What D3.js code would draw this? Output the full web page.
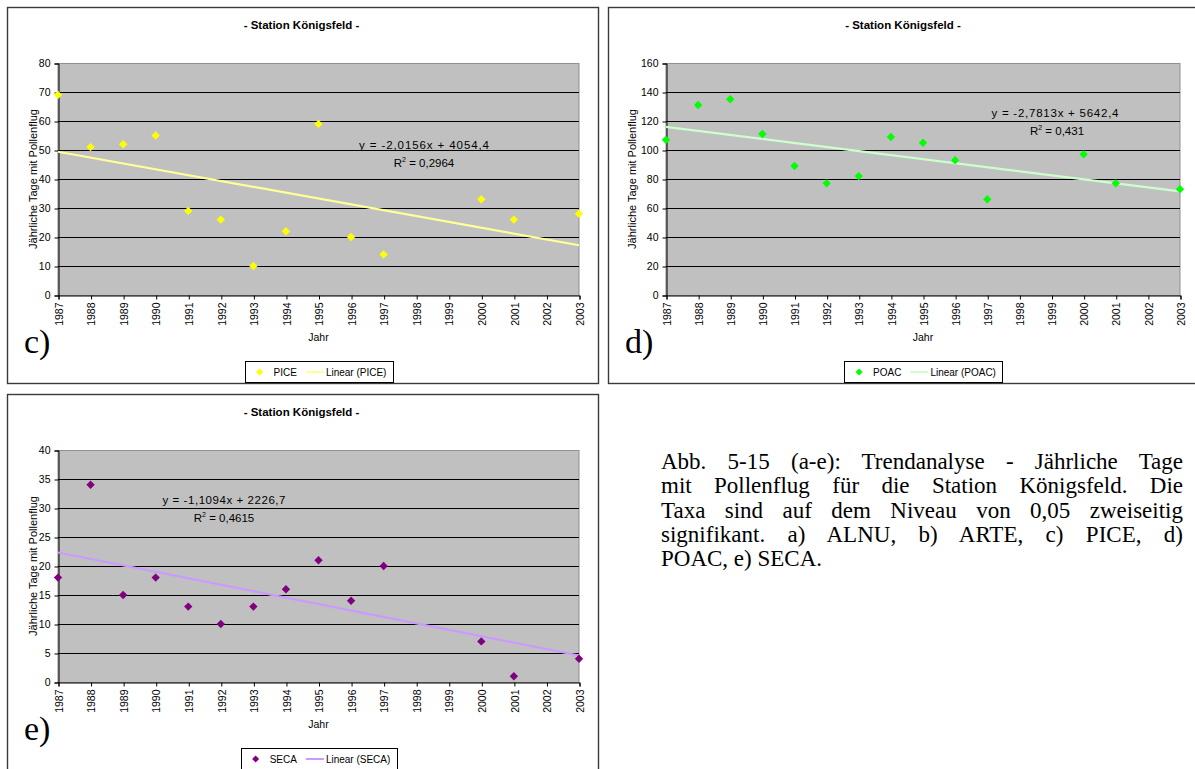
<!DOCTYPE html>
<html><head><meta charset="utf-8">
<script src="https://cdn.jsdelivr.net/npm/d3@7"></script>
<style>
body{margin:0;background:#fff;}
#wrap{position:relative;width:1195px;height:769px;overflow:hidden;background:#fff;}
svg{position:absolute;left:0;top:0;}
.cap{position:absolute;left:661px;top:450px;width:522px;font-family:"Liberation Serif","Times New Roman",serif;font-size:23px;line-height:24.3px;color:#000;}
.cap div{text-align:justify;text-align-last:justify;white-space:nowrap;}
.cap div.last{text-align:left;text-align-last:left;}
</style></head>
<body><div id="wrap"></div>
<script>
// ---------- data ----------
const yearTicks = [1987,1988,1989,1990,1991,1992,1993,1994,1995,1996,1997,1998,1999,2000,2001,2002,2003];
const obsYears  = [1987,1988,1989,1990,1991,1992,1993,1994,1995,1996,1997,2000,2001,2003];
const piceValues = [69,51,52,55,29,26,10,22,59,20,14,33,26,28];
const poacValues = [107,131,135,111,89,77,82,109,105,93,66,97,77,73];
const secaValues = [18,34,15,18,13,10,13,16,21,14,20,7,1,4];
const piceTicks = [0,10,20,30,40,50,60,70,80];
const poacTicks = [0,20,40,60,80,100,120,140,160];
const secaTicks = [0,5,10,15,20,25,30,35,40];
const seriesNames = ["PICE","POAC","SECA"];
const trendSlopes = [-2.0156,-2.7813,-1.1094];
const trendIntercepts = [4054.4,5642.4,2226.7];
const eqLabels = ["y = -2,0156x + 4054,4","y = -2,7813x + 5642,4","y = -1,1094x + 2226,7"];
const r2Labels = ["0,2964","0,431","0,4615"];
const panelLetters = ["c)","d)","e)"];
const chartTitle = "- Station Königsfeld -";
const yTitle = "Jährliche Tage mit Pollenflug";
const xTitle = "Jahr";
const captionLines = [
 "Abb. 5-15 (a-e): Trendanalyse - Jährliche Tage",
 "mit Pollenflug für die Station Königsfeld. Die",
 "Taxa sind auf dem Niveau von 0,05 zweiseitig",
 "signifikant. a) ALNU, b) ARTE, c) PICE, d)",
 "POAC, e) SECA."
];

// ---------- layout / style ----------
const panels = [
 {values:piceValues, ticks:piceTicks, idx:0, marker:"#FFFF00", trend:"#FFFF99",
  bx:7,by:7,bw:591,bh:376, px0:58,px1:579,py0:63,py1:295, ylabX:33, eq:[366,86], r2:[366,104], eqW:130},
 {values:poacValues, ticks:poacTicks, idx:1, marker:"#00FF00", trend:"#CCFFCC",
  bx:608,by:7,bw:592,bh:376, px0:666,px1:1180,py0:63,py1:295, ylabX:632, eq:[389,54], r2:[391,72], eqW:127},
 {values:secaValues, ticks:secaTicks, idx:2, marker:"#800080", trend:"#CC99FF",
  bx:7,by:394,bw:591,bh:390, px0:58,px1:579,py0:450,py1:682, ylabX:33, eq:[166,54], r2:[166,72], eqW:123}
];
const SANS = '"Liberation Sans", Arial, sans-serif';

const svg = d3.select("#wrap").append("svg").attr("width",1195).attr("height",769);

const diamond = {draw(ctx,size){const r=Math.sqrt(size)/2; ctx.moveTo(0,-r);ctx.lineTo(r,0);ctx.lineTo(0,r);ctx.lineTo(-r,0);ctx.closePath();}};
const diamondPath = d3.symbol().type(diamond).size(70);

panels.forEach(p=>{
  const g = svg.append("g");
  // border
  g.append("rect").attr("x",p.bx+0.5).attr("y",p.by+0.5).attr("width",p.bw).attr("height",p.bh)
    .attr("fill","#fff").attr("stroke","#3a3a3a").attr("stroke-width",1.4);

  const x = d3.scaleLinear().domain([yearTicks[0], yearTicks[yearTicks.length-1]]).range([p.px0,p.px1]);
  const y = d3.scaleLinear().domain([p.ticks[0], p.ticks[p.ticks.length-1]]).range([p.py1,p.py0]);
  const pcx = (p.px0+p.px1)/2;

  // plot area
  g.append("rect").attr("x",p.px0).attr("y",p.py0+0.5).attr("width",p.px1-p.px0).attr("height",p.py1-p.py0)
    .attr("fill","#C0C0C0").attr("stroke","#909090").attr("stroke-width",1);
  // gridlines
  g.selectAll(".grid").data(p.ticks.slice(1,-1)).join("line")
    .attr("x1",p.px0).attr("x2",p.px1)
    .attr("y1",d=>Math.round(y(d))+0.5).attr("y2",d=>Math.round(y(d))+0.5)
    .attr("stroke","#000").attr("stroke-width",1);

  // axes
  const ya = g.append("g").attr("transform",`translate(${p.px0+0.5},0.5)`)
    .call(d3.axisLeft(y).tickValues(p.ticks).tickSize(4).tickPadding(4).tickFormat(d3.format("d")));
  ya.selectAll("text").attr("font-family",SANS).attr("font-size",10.5).attr("fill","#000");
  ya.selectAll("line,path").attr("stroke","#000");
  const xa = g.append("g").attr("transform",`translate(0.5,${p.py1+0.5})`)
    .call(d3.axisBottom(x).tickValues(yearTicks).tickSize(4).tickFormat(d3.format("d")));
  xa.selectAll("line,path").attr("stroke","#000");
  xa.selectAll("text").attr("font-family",SANS).attr("font-size",10.5).attr("fill","#000")
    .attr("transform","rotate(-90)").attr("x",-7).attr("y",0).attr("dy","0.35em").attr("text-anchor","end");

  // trend line
  const tr = yearTicks.filter((d,i)=>i===0||i===yearTicks.length-1)
      .map(yr=>[yr, trendSlopes[p.idx]*yr+trendIntercepts[p.idx]]);
  g.append("path").datum(tr).attr("d",d3.line().x(d=>x(d[0])).y(d=>y(d[1])))
    .attr("stroke",p.trend).attr("stroke-width",2.2).attr("fill","none");

  // points
  g.selectAll(".pt").data(p.values).join("path")
    .attr("d",diamondPath).attr("fill",p.marker)
    .attr("transform",(d,i)=>`translate(${x(obsYears[i])},${y(d)})`);

  // equation + R2
  g.append("text").attr("x",p.px0+p.eq[0]).attr("y",p.py0+p.eq[1]).attr("text-anchor","middle")
    .attr("font-family",SANS).attr("font-size",11.5).attr("textLength",p.eqW).attr("lengthAdjust","spacing")
    .text(eqLabels[p.idx]);
  const r2 = g.append("text").attr("x",p.px0+p.r2[0]).attr("y",p.py0+p.r2[1]).attr("text-anchor","middle")
    .attr("font-family",SANS).attr("font-size",11.5);
  r2.append("tspan").text("R");
  r2.append("tspan").attr("font-size",7).attr("dy",-5).text("2");
  r2.append("tspan").attr("dy",5).text(" = "+r2Labels[p.idx]);

  // titles
  g.append("text").attr("x",p.bx+p.bw/2-1).attr("y",p.by+22).attr("text-anchor","middle")
    .attr("font-family",SANS).attr("font-weight","bold").attr("font-size",11.5).text(chartTitle);
  g.append("text").attr("transform",`translate(${p.ylabX},${(p.py0+p.py1)/2}) rotate(-90)`)
    .attr("text-anchor","middle").attr("dy","0.35em")
    .attr("font-family",SANS).attr("font-size",11).text(yTitle);
  g.append("text").attr("x",pcx).attr("y",p.py1+46).attr("text-anchor","middle")
    .attr("font-family",SANS).attr("font-size",10.5).text(xTitle);
  g.append("text").attr("x",p.bx+17).attr("y",p.by+346)
    .attr("font-family",'"Liberation Serif","Times New Roman",serif').attr("font-size",34).text(panelLetters[p.idx]);

  // legend
  const lg = g.append("g");
  const t1 = lg.append("text").attr("font-family",SANS).attr("font-size",10).text(seriesNames[p.idx]);
  const t2 = lg.append("text").attr("font-family",SANS).attr("font-size",10).text("Linear ("+seriesNames[p.idx]+")");
  const w1 = t1.node().getComputedTextLength(), w2 = t2.node().getComputedTextLength();
  const W = 15+14+w1+9+18+2+w2+6, H = 21;
  const lx = pcx - W/2, ly = p.by+354;
  lg.insert("rect","text").attr("x",Math.round(lx)+0.5).attr("y",ly+0.5).attr("width",Math.round(W)).attr("height",H)
    .attr("fill","#fff").attr("stroke","#000").attr("stroke-width",1);
  lg.append("path").attr("d",d3.symbol().type(diamond).size(49)).attr("fill",p.marker)
    .attr("transform",`translate(${lx+15},${ly+H/2+0.5})`);
  t1.attr("x",lx+29).attr("y",ly+H/2+4);
  lg.append("line").attr("x1",lx+29+w1+9).attr("x2",lx+29+w1+27).attr("y1",ly+H/2+0.5).attr("y2",ly+H/2+0.5)
    .attr("stroke",p.trend).attr("stroke-width",2);
  t2.attr("x",lx+29+w1+29).attr("y",ly+H/2+4);
});

// caption
const cap = d3.select("#wrap").append("div").attr("class","cap");
cap.selectAll("div").data(captionLines).join("div")
  .attr("class",(d,i)=>i===captionLines.length-1?"last":null).text(d=>d);
</script>
</body></html>
